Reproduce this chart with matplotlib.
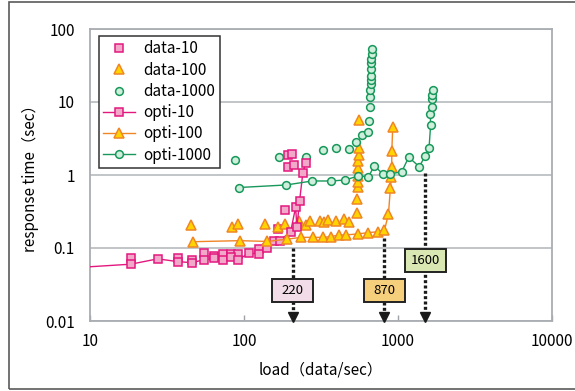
import matplotlib
matplotlib.use('Agg')
import matplotlib.pyplot as plt
from matplotlib.patches import Rectangle
from matplotlib.transforms import IdentityTransform

plt.rcParams['font.family'] = ['Noto Sans CJK JP', 'DejaVu Sans']

# --- values ---
data_10_x = [18.4, 37.3, 46.0, 54.8, 63.6, 73.1, 82.0, 91.4, 125.1, 166, 185, 192, 205, 192, 212]
data_10_y = [0.072, 0.072, 0.069, 0.085, 0.078, 0.083, 0.083, 0.083, 0.096, 0.184, 0.336, 1.88, 1.94, 1.30, 1.37]

data_100_x = [45.6, 84.1, 91.4, 136, 166, 183.5, 226, 251, 269, 310, 329, 350, 397, 443, 484,
              542, 545, 548, 550, 550, 552, 552, 555, 555, 560]
data_100_y = [0.207, 0.197, 0.215, 0.215, 0.191, 0.216, 0.232, 0.207, 0.233, 0.234, 0.229, 0.241, 0.233, 0.249, 0.227,
              0.297, 0.466, 0.69, 0.81, 0.97, 1.24, 1.54, 1.85, 2.32, 5.75]

data_1000_x = [87, 170, 253, 325, 397, 484, 530, 585, 643, 651, 655, 660, 662, 670, 670, 668, 672, 668, 668, 675, 682]
data_1000_y = [1.60, 1.75, 1.79, 2.20, 2.37, 2.24, 2.80, 3.50, 3.90, 5.50, 8.46, 11.8, 14.6, 17.5, 20.0, 22.7, 28.0,
               33.9, 38.8, 45.5, 52.7]

# first point lies left of the axis (line enters from the edge)
opti_10_x = [8.3, 18.4, 27.5, 37.3, 46.0, 54.8, 63.6, 73.1, 82.0, 91.4, 107.8, 125.1, 140.9, 156.2, 170.4,
             200.8, 216.3, 220.6, 229.6, 241.2, 251.2]
opti_10_y = [0.054, 0.060, 0.071, 0.065, 0.063, 0.069, 0.072, 0.069, 0.075, 0.069, 0.085, 0.083, 0.099, 0.126, 0.126,
             0.167, 0.361, 0.192, 0.445, 1.075, 1.446]

opti_100_x = [46.8, 93.8, 142, 190, 235, 280, 325, 368, 413, 461, 548, 637, 739, 817, 867, 893, 906, 910, 912, 924]
opti_100_y = [0.122, 0.126, 0.123, 0.132, 0.140, 0.140, 0.140, 0.143, 0.151, 0.151, 0.156, 0.162, 0.167, 0.176,
              0.292, 0.67, 0.95, 1.30, 2.13, 4.6]

opti_1000_x = [92.8, 188, 277, 368, 456, 548, 643, 703, 796, 893, 1058, 1173, 1376, 1498, 1591, 1629, 1620,
               1652, 1652, 1660, 1689]
opti_1000_y = [0.674, 0.730, 0.828, 0.828, 0.855, 0.969, 0.948, 1.34, 1.03, 1.03, 1.11, 1.75, 1.30, 1.82, 2.37,
               4.84, 6.8, 8.46, 10.9, 12.5, 14.6]

ann_labels = ['220', '870', '1600']
ann_x = [208, 817, 1505]        # where the dotted arrows sit
ann_top = [0.099, 0.137, 1.06]  # where the dotted lines begin
ann_box_y = [0.026, 0.026, 0.068]
ann_colors = ['#f2dce7', '#f6cf7c', '#d9e7b2']

xticks = [10, 100, 1000, 10000]
yticks = [0.01, 0.1, 1, 10, 100]

PINK, PINK_F = '#e3187f', '#f2a8c9'
ORNG, YELW = '#f08526', '#ffd400'
GRN, GRN_F = '#18985a', '#cfeedc'

fig = plt.figure(figsize=(5.75, 3.91), dpi=100)
fig.patches.append(Rectangle((9/575, 2/391), 1.0, 387/391, transform=fig.transFigure,
                             fill=False, edgecolor='#5a5a5a', lw=1.2))
ax = fig.add_axes([90/575, 1-321/391, 462/575, 292/391])

sq = dict(marker='s', ms=5.6, mfc=PINK_F, mec=PINK, mew=1.1)
tri = dict(marker='^', ms=7, mfc=YELW, mec=ORNG, mew=1.1)
cir = dict(marker='o', ms=5.6, mfc=GRN_F, mec=GRN, mew=1.1)

ax.plot(data_10_x, data_10_y, ls='none', label='data-10', zorder=3, **sq)
ax.plot(data_100_x, data_100_y, ls='none', label='data-100', zorder=3, **tri)
ax.plot(data_1000_x, data_1000_y, ls='none', label='data-1000', zorder=3, **cir)
ax.plot(opti_10_x, opti_10_y, color=PINK, lw=1.0, label='opti-10', zorder=3, **sq)
ax.plot(opti_100_x, opti_100_y, color=ORNG, lw=1.0, label='opti-100', zorder=3, **tri)
ax.plot(opti_1000_x, opti_1000_y, color=GRN, lw=1.0, label='opti-1000', zorder=3, **cir)

ax.set_xscale('log'); ax.set_yscale('log')
ax.set_xlim(10, 10000); ax.set_ylim(0.01, 100)
ax.set_xticks(xticks); ax.set_xticklabels([str(v) for v in xticks])
ax.set_yticks(yticks); ax.set_yticklabels(['0.01', '0.1', '1', '10', '100'])
ax.minorticks_off()
ax.tick_params(axis='x', direction='in', length=4, width=1, color='#9ea2a6', pad=9, labelsize=11)
ax.tick_params(axis='y', length=0, pad=11, labelsize=11)
for s in ax.spines.values():
    s.set_color('#a9adb1'); s.set_linewidth(1.3)
ax.yaxis.grid(True, color='#bcc0c4', lw=1.3)
ax.set_axisbelow(True)

ax.set_xlabel('load（data/sec）', fontsize=11, labelpad=8)
ax.set_ylabel('response time（sec）', fontsize=11, labelpad=4)

# dotted arrows with value boxes
for x, y0, lab, yb, fc in zip(ann_x, ann_top, ann_labels, ann_box_y, ann_colors):
    ax.plot([x, x], [y0, 0.0118], color='#1a1a1a', lw=2.4, ls=(0, (0.9, 0.7)),
            dash_capstyle='butt', zorder=4)
    ax.plot([x], [0.0113], marker='v', ms=6.5, color='#1a1a1a', zorder=5, clip_on=False)
    fig.canvas.draw()
    px, py = ax.transData.transform((x, yb))
    ax.add_patch(Rectangle((px - 20.5, py - 11.5), 41, 23, transform=IdentityTransform(),
                           fc=fc, ec='#222222', lw=1.4, zorder=6, clip_on=False))
    ax.text(x, yb, lab, ha='center', va='center', fontsize=9.5, zorder=7)

leg = ax.legend(loc='upper left', bbox_to_anchor=(0.019, 0.977), borderaxespad=0, fontsize=11,
                frameon=True, fancybox=False, framealpha=1, edgecolor='#333333',
                handlelength=2.1, handletextpad=0.5, labelspacing=0.28, borderpad=0.3)
leg.get_frame().set_linewidth(1.1)

fig.savefig('out.png', dpi=100)
